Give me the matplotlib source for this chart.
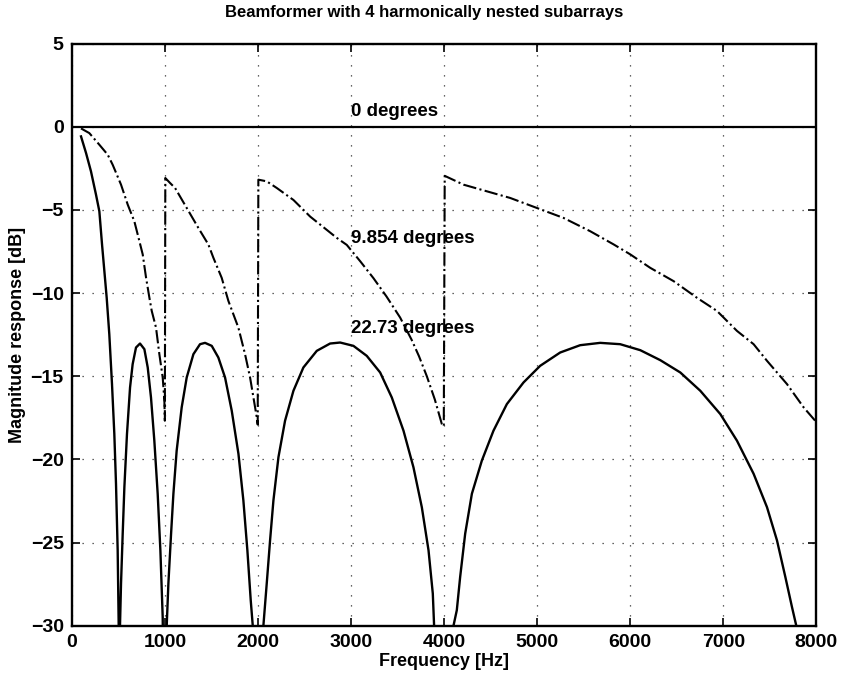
import matplotlib
matplotlib.use("Agg")
import matplotlib.pyplot as plt

# frequency (Hz) / magnitude (dB)
freq_0deg = [0, 8000]
mag_0deg = [0, 0]

freq_9deg = [97, 186, 294, 384, 437, 527, 599, 670, 706, 760, 796, 832, 857,
             903, 939, 975, 993, 998,
             1003, 1054, 1108, 1233, 1358, 1466, 1520, 1609, 1681, 1788, 1860,
             1914, 1950, 1986, 1996,
             2003, 2093, 2201, 2380, 2560, 2846, 2953, 3100, 3240, 3380, 3527,
             3650, 3730, 3814, 3900, 3975, 3996,
             4006, 4208, 4459, 4710, 4996, 5283, 5570, 5821, 6000, 6215, 6466,
             6717, 6932, 7147, 7326, 7470, 7685, 7864, 8000]
mag_9deg = [-0.1, -0.38, -1.08, -1.68, -2.28, -3.48, -4.68, -5.68, -6.47, -7.67,
            -9.07, -10.28, -11.07,
            -12.07, -13.67, -15.07, -16.47, -17.67,
            -3.08, -3.38, -3.68, -4.88, -6.08, -7.08, -7.88, -9.08, -10.47,
            -12.07, -13.67, -15.07, -16.27, -17.47, -17.9,
            -3.18, -3.28, -3.68, -4.4, -5.4, -6.68, -7.1, -8.1, -9.1, -10.2,
            -11.47, -12.8, -13.8, -15.0, -16.4, -17.87, -18.0,
            -2.95, -3.48, -3.88, -4.28, -4.88, -5.48, -6.28, -7.07, -7.67,
            -8.48, -9.28, -10.28, -11.07, -12.27, -13.07, -14.07, -15.47,
            -16.87, -17.75]

freq_22deg = [97, 151, 204, 258, 294, 323, 348, 373, 401, 430, 455, 473, 491,
              502, 510,
              516, 527, 545, 563, 591, 624, 652, 688, 731, 778, 814, 849, 885,
              921, 950, 975, 1000,
              1018, 1036, 1065, 1090, 1125, 1179, 1233, 1305, 1376, 1430, 1502,
              1573, 1645, 1717, 1789, 1842, 1885, 1921, 1943, 2000,
              2057, 2093, 2129, 2165, 2219, 2290, 2380, 2487, 2631, 2774, 2882,
              3025, 3168, 3312, 3437, 3563, 3670, 3760, 3832, 3878, 3892, 4000,
              4100, 4136, 4172, 4226, 4298, 4405, 4530, 4674, 4853, 5032, 5247,
              5462, 5677, 5892, 6108, 6323, 6538, 6753, 6968, 7147, 7326, 7470,
              7577, 7667, 7738, 7785, 7820]
mag_22deg = [-0.58, -1.58, -2.68, -4.08, -5.08, -7.08, -8.68, -10.28, -12.47,
             -15.47, -18.47, -21.46, -25.46, -30.0, -45.0,
             -30.0, -27.46, -24.46, -21.67, -18.47, -15.67, -14.27, -13.27,
             -13.03, -13.37, -14.47, -16.27, -18.87, -22.06, -25.46, -29.5, -45.0,
             -30.0, -27.46, -24.46, -22.06, -19.47, -16.87, -15.07, -13.67,
             -13.07, -12.99, -13.17, -13.87, -15.07, -17.07, -19.66, -22.46,
             -25.46, -28.46, -30.0, -45.0,
             -30.0, -27.46, -24.86, -22.46, -19.86, -17.67, -15.87, -14.47,
             -13.47, -13.03, -12.97, -13.17, -13.77, -14.77, -16.27, -18.27,
             -20.47, -22.87, -25.46, -28.06, -30.0, -45.0,
             -30.0, -29.06, -27.06, -24.46, -22.06, -20.07, -18.27, -16.67,
             -15.37, -14.37, -13.57, -13.13, -12.99, -13.07, -13.43, -14.03,
             -14.77, -15.87, -17.27, -18.87, -20.86, -22.87, -24.86, -27.06,
             -28.86, -30.0, -32.0]

x_ticks = [0, 1000, 2000, 3000, 4000, 5000, 6000, 7000, 8000]
y_ticks = [-30, -25, -20, -15, -10, -5, 0, 5]

plt.rcParams["font.family"] = ["Liberation Sans", "DejaVu Sans"]
plt.rcParams["font.weight"] = "bold"

fig = plt.figure(figsize=(8.42, 6.81), dpi=100)
ax = fig.add_axes([0.0855, 0.081, 0.884, 0.855])

ax.plot(freq_0deg, mag_0deg, color="black", lw=1.6)
ax.plot(freq_9deg, mag_9deg, color="black", lw=1.5, linestyle="-.")
ax.plot(freq_22deg, mag_22deg, color="black", lw=1.7)

lbl = dict(fontsize=13.5, va="center", ha="left", fontweight="bold")
ax.text(3000, 0.9, "0 degrees", **lbl)
ax.text(3000, -6.7, "9.854 degrees", **lbl)
ax.text(3000, -12.15, "22.73 degrees", **lbl)

ax.set_xlim(0, 8000)
ax.set_ylim(-30, 5)
ax.set_xticks(x_ticks)
ax.set_yticks(y_ticks)
ax.tick_params(direction="in", top=True, right=True, length=6, width=1.2,
               labelsize=14, pad=6)
ax.grid(True, linestyle=(0, (1, 7)), color="black", lw=0.9, alpha=0.8)
for s in ax.spines.values():
    s.set_linewidth(1.7)

ax.set_xlabel("Frequency [Hz]", fontsize=13, fontweight="bold", labelpad=1)
ax.set_ylabel("Magnitude response [dB]", fontsize=13, fontweight="bold", labelpad=3)
ax.set_title("Beamformer with 4 harmonically nested subarrays", fontsize=12,
             fontweight="bold", pad=19, x=0.4725)

fig.savefig("out.png", dpi=100)
